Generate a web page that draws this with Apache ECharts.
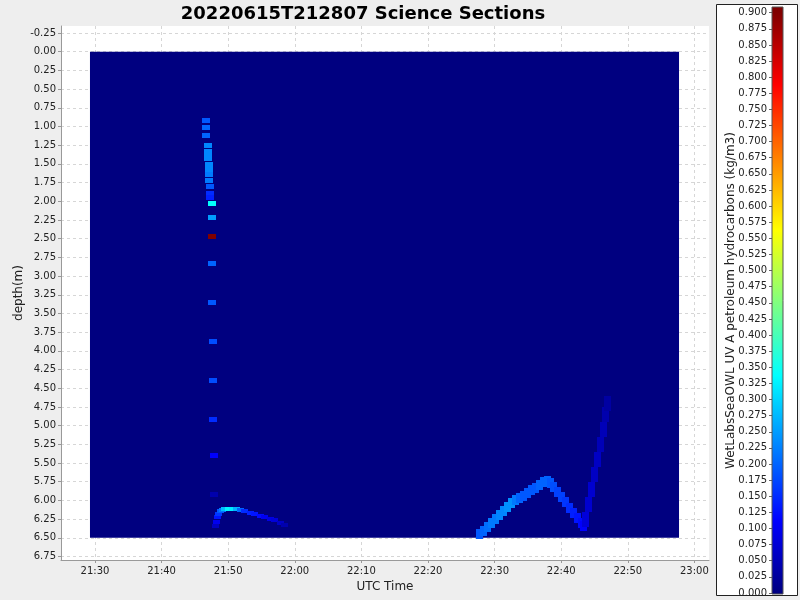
<!DOCTYPE html>
<html><head><meta charset="utf-8">
<script src="https://cdn.jsdelivr.net/npm/echarts@6/dist/echarts.min.js"></script>
<style>html,body{margin:0;padding:0;background:#eeeeee}#c{width:800px;height:600px}</style>
</head><body><div id="c"></div>
<script>
// ---------------- data ----------------
const titleText = '20220615T212807 Science Sections';
const xAxisName = 'UTC Time';
const yAxisName = 'depth(m)';
const colorAxisName = 'WetLabsSeaOWL UV A petroleum hydrocarbons (kg/m3)';
// time in minutes after 21:00 UTC
const xTicks = [30, 40, 50, 60, 70, 80, 90, 100, 110, 120];
const xTickLabels = ['21:30', '21:40', '21:50', '22:00', '22:10', '22:20', '22:30', '22:40', '22:50', '23:00'];
const yTicks = [-0.25, 0, 0.25, 0.5, 0.75, 1, 1.25, 1.5, 1.75, 2, 2.25, 2.5, 2.75, 3, 3.25, 3.5, 3.75, 4, 4.25, 4.5, 4.75, 5, 5.25, 5.5, 5.75, 6, 6.25, 6.5, 6.75];
const colorTicks = [0, 0.025, 0.05, 0.075, 0.1, 0.125, 0.15, 0.175, 0.2, 0.225, 0.25, 0.275, 0.3, 0.325, 0.35, 0.375, 0.4, 0.425, 0.45, 0.475, 0.5, 0.525, 0.55, 0.575, 0.6, 0.625, 0.65, 0.675, 0.7, 0.725, 0.75, 0.775, 0.8, 0.825, 0.85, 0.875, 0.9];
const colorRange = [0, 0.9];
const jetColors = ['#000080', '#0000ff', '#0080ff', '#00ffff', '#80ff80', '#ffff00', '#ff8000', '#ff0000', '#800000'];
// gridded section extent: [start, end]
const sectionTime = [29.25, 117.69];
const sectionDepth = [0, 6.5];
// [time(min after 21:00), depth(m), value(kg/m3)]
const profileCells = [
  [46.67, 0.92, 0.19], [46.67, 1.02, 0.20], [46.67, 1.125, 0.20],
  [46.9, 1.26, 0.23], [46.9, 1.33, 0.23], [46.9, 1.40, 0.23], [46.9, 1.43, 0.23],
  [47.12, 1.505, 0.23], [47.12, 1.575, 0.23], [47.12, 1.645, 0.22], [47.12, 1.725, 0.22],
  [47.34, 1.80, 0.19], [47.34, 1.895, 0.15], [47.34, 1.955, 0.14],
  [47.57, 2.03, 0.34], [47.57, 2.22, 0.25], [47.57, 2.475, 0.9], [47.57, 2.84, 0.2],
  [47.57, 3.36, 0.19], [47.79, 3.875, 0.18], [47.79, 4.40, 0.18], [47.79, 4.92, 0.15],
  [47.94, 5.40, 0.11], [47.94, 5.92, 0.04]
];
const bottomTurnCells = [
  [48.02, 6.34, 0.06], [48.17, 6.29, 0.10], [48.32, 6.23, 0.13], [48.47, 6.19, 0.16],
  [48.77, 6.15, 0.19], [49.07, 6.13, 0.22],
  [49.37, 6.12, 0.28], [49.97, 6.12, 0.33], [50.57, 6.12, 0.32], [51.17, 6.12, 0.27], [51.77, 6.13, 0.2],
  [52.5, 6.15, 0.15], [53.27, 6.17, 0.14], [54.0, 6.19, 0.13], [54.8, 6.21, 0.12],
  [55.5, 6.23, 0.1], [56.3, 6.25, 0.09], [57.0, 6.27, 0.08], [57.8, 6.30, 0.06], [58.5, 6.33, 0.04]
];
const zigzagCells = [
  [87.81, 6.448, 0.19], [88.41, 6.408, 0.2], [89.01, 6.355, 0.21], [89.61, 6.301, 0.22],
  [90.21, 6.248, 0.22], [90.81, 6.194, 0.23], [91.41, 6.141, 0.23], [92.01, 6.087, 0.24],
  [92.61, 6.034, 0.24], [93.21, 5.994, 0.22], [93.81, 5.967, 0.2], [94.41, 5.940, 0.19],
  [95.01, 5.900, 0.19], [95.62, 5.860, 0.19], [96.22, 5.833, 0.19], [96.82, 5.793, 0.2],
  [97.42, 5.753, 0.2], [98.02, 5.739, 0.2], [98.47, 5.766, 0.19],
  [98.92, 5.820, 0.18], [99.52, 5.887, 0.17], [100.12, 5.953, 0.17], [100.72, 6.020, 0.16],
  [101.32, 6.101, 0.15], [101.92, 6.168, 0.14], [102.52, 6.235, 0.13], [103.12, 6.302, 0.12],
  [103.42, 6.342, 0.11]
];
const climbCells = [
  [103.57, 6.261, 0.08], [104.02, 6.060, 0.07], [104.47, 5.859, 0.07], [104.92, 5.658, 0.06],
  [105.38, 5.457, 0.06], [105.83, 5.257, 0.05], [106.28, 5.056, 0.05], [106.65, 4.855, 0.04],
  [106.95, 4.708, 0.03]
];

// ---------------- chart ----------------
const FONT = 'DejaVu Sans';
const xMin = 24.9, xMax = 122.19, yMin = -0.344, yMax = 6.797;
const cbMin = -0.0016, cbMax = 0.9088;

function cellRender(dt, dz) {
  return function (params, api) {
    const t = api.value(0), d = api.value(1);
    const p0 = api.coord([t - dt / 2, d - dz / 2]);
    const p1 = api.coord([t + dt / 2, d + dz / 2]);
    return {
      type: 'rect',
      shape: { x: Math.round(Math.min(p0[0], p1[0])), y: Math.round(Math.min(p0[1], p1[1])),
               width: Math.round(Math.abs(p1[0] - p0[0])), height: Math.round(Math.abs(p1[1] - p0[1])) },
      style: { fill: api.visual('color') }
    };
  };
}
function bgRender(params, api) {
  const p0 = api.coord([api.value(0), api.value(1)]);
  const p1 = api.coord([api.value(3), api.value(4)]);
  return {
    type: 'rect',
    shape: { x: Math.min(p0[0], p1[0]), y: Math.min(p0[1], p1[1]),
             width: Math.abs(p1[0] - p0[0]), height: Math.abs(p1[1] - p0[1]) },
    style: { fill: api.visual('color') }
  };
}
function colorbarRender(params, api) {
  const p0 = api.coord([0, cbMax]);
  const p1 = api.coord([1, cbMin]);
  const stops = [];
  for (let i = jetColors.length - 1; i >= 0; i--) {
    const v = colorRange[0] + (colorRange[1] - colorRange[0]) * i / (jetColors.length - 1);
    stops.push({ offset: Math.min(1, Math.max(0, (cbMax - v) / (cbMax - cbMin))), color: jetColors[i] });
  }
  return {
    type: 'rect',
    shape: { x: p0[0], y: p0[1], width: p1[0] - p0[0], height: p1[1] - p0[1] },
    style: { fill: { type: 'linear', x: 0, y: 0, x2: 0, y2: 1, colorStops: stops }, stroke: '#555', lineWidth: 1 }
  };
}

const labelStyle = { fontFamily: FONT, fontSize: 10, color: '#222' };
const chart = echarts.init(document.getElementById('c'), null, { renderer: 'canvas' });
chart.setOption({
  backgroundColor: '#eeeeee',
  animation: false,
  title: {
    text: titleText, left: 358, top: 0, textAlign: 'center',
    textStyle: { fontFamily: FONT, fontSize: 18, fontWeight: 'bold', color: '#000' }
  },
  graphic: [{
    type: 'rect', z: -10, left: 716, top: 4,
    shape: { width: 81, height: 591 },
    style: { fill: '#ffffff', stroke: '#222', lineWidth: 1 }
  }],
  grid: [
    { left: 61, top: 26, width: 648, height: 534, show: true, backgroundColor: '#ffffff', borderWidth: 0,
      outerBoundsMode: 'none', containLabel: false },
    { left: 772, top: 7, width: 11, height: 587, show: false, outerBoundsMode: 'none', containLabel: false }
  ],
  xAxis: [{
    type: 'value', gridIndex: 0, min: xMin, max: xMax, position: 'bottom',
    name: xAxisName, nameLocation: 'middle', nameGap: 21, nameMoveOverlap: false,
    nameTextStyle: { fontFamily: FONT, fontSize: 12, color: '#222' },
    axisLine: { show: true, onZero: false, lineStyle: { color: '#999' } },
    axisTick: { show: true, length: 3, customValues: xTicks, lineStyle: { color: '#999' } },
    axisLabel: Object.assign({ margin: 6, customValues: xTicks,
      formatter: v => { const i = xTicks.findIndex(x => Math.abs(x - v) < 1e-6); return i >= 0 ? xTickLabels[i] : ''; } }, labelStyle),
    splitLine: { show: true, customValues: xTicks, lineStyle: { color: '#d6d6d6', type: [3, 3] } }
  }, {
    type: 'value', gridIndex: 1, min: 0, max: 1, show: false
  }],
  yAxis: [{
    type: 'value', gridIndex: 0, inverse: true, min: yMin, max: yMax, position: 'left',
    name: yAxisName, nameLocation: 'middle', nameGap: 36, nameMoveOverlap: false,
    nameTextStyle: { fontFamily: FONT, fontSize: 12, color: '#222' },
    axisLine: { show: true, onZero: false, lineStyle: { color: '#999' } },
    axisTick: { show: true, length: 3, customValues: yTicks, lineStyle: { color: '#999' } },
    axisLabel: Object.assign({ margin: 5, customValues: yTicks, formatter: v => v.toFixed(2) }, labelStyle),
    splitLine: { show: true, customValues: yTicks, lineStyle: { color: '#d6d6d6', type: [3, 3] } }
  }, {
    type: 'value', gridIndex: 1, min: cbMin, max: cbMax, position: 'left',
    name: colorAxisName, nameLocation: 'middle', nameGap: 35, nameMoveOverlap: false,
    nameTextStyle: { fontFamily: FONT, fontSize: 12, color: '#222' },
    axisLine: { show: false, onZero: false },
    axisTick: { show: true, length: 3, customValues: colorTicks, lineStyle: { color: '#666' } },
    axisLabel: Object.assign({ margin: 5, customValues: colorTicks, formatter: v => v.toFixed(3) }, labelStyle),
    splitLine: { show: false }
  }],
  visualMap: {
    type: 'continuous', show: false, min: colorRange[0], max: colorRange[1], dimension: 2,
    seriesIndex: [0, 1, 2, 3, 4], inRange: { color: jetColors }
  },
  series: [
    { type: 'custom', xAxisIndex: 0, yAxisIndex: 0, renderItem: bgRender, clip: true,
      data: [[sectionTime[0], sectionDepth[0], 0, sectionTime[1], sectionDepth[1]]] },
    { type: 'custom', xAxisIndex: 0, yAxisIndex: 0, renderItem: cellRender(1.2, 0.07), clip: true, data: profileCells },
    { type: 'custom', xAxisIndex: 0, yAxisIndex: 0, renderItem: cellRender(1.0, 0.06), clip: true, data: bottomTurnCells },
    { type: 'custom', xAxisIndex: 0, yAxisIndex: 0, renderItem: cellRender(1.1, 0.13), clip: true, data: zigzagCells },
    { type: 'custom', xAxisIndex: 0, yAxisIndex: 0, renderItem: cellRender(1.0, 0.2), clip: true, data: climbCells },
    { type: 'custom', xAxisIndex: 1, yAxisIndex: 1, renderItem: colorbarRender, data: [[0]] }
  ]
});
</script></body></html>
